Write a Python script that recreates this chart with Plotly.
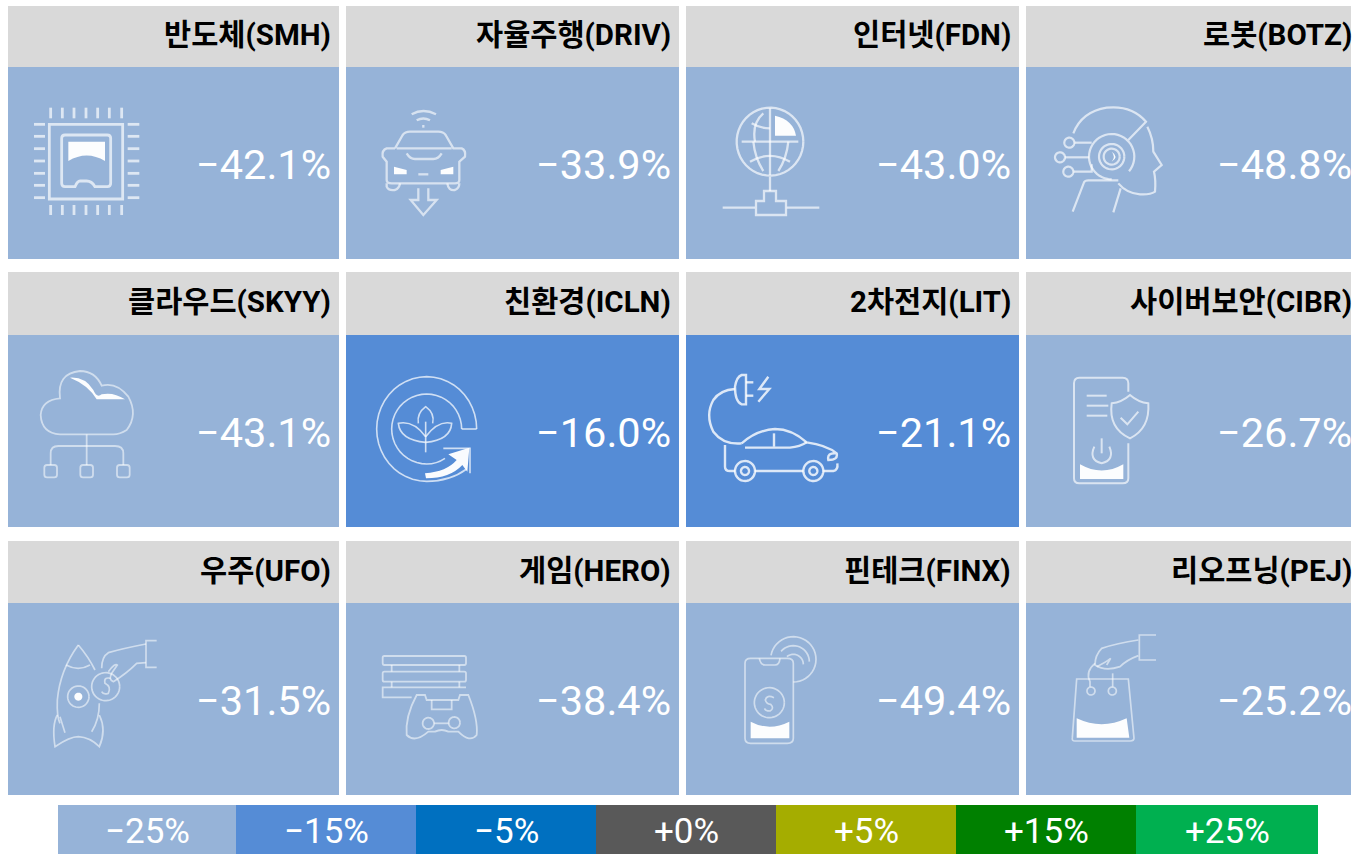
import math
import re
import plotly.graph_objects as go

# ---------- data ----------
CATEGORIES = ["반도체", "자율주행", "인터넷", "로봇",
              "클라우드", "친환경", "2차전지", "사이버보안",
              "우주", "게임", "핀테크", "리오프닝"]
TICKERS = ["SMH", "DRIV", "FDN", "BOTZ",
           "SKYY", "ICLN", "LIT", "CIBR",
           "UFO", "HERO", "FINX", "PEJ"]
RETURNS = [-42.1, -33.9, -43.0, -48.8,
           -43.1, -16.0, -21.1, -26.7,
           -31.5, -38.4, -49.4, -25.2]
LEGEND_VALUES = [-25, -15, -5, 0, 5, 15, 25]
LEGEND_COLORS = ["#96b3d8", "#558cd6", "#0070c0", "#595959", "#a5ad00", "#008000", "#00b050"]

# ---------- layout constants ----------
W, H = 1369, 854
COL_L = [8, 346, 686, 1026]
COL_R = [339, 679, 1019, 1351]
TEXT_R = [331, 671, 1011, 1352]
ROW_TOP = [6, 272, 541]
ROW_MID = [67, 335, 603]
ROW_BOT = [259, 527, 795]
LEG_EDGES = [58, 236, 416, 596, 776, 956, 1136, 1318]
LEG_TOP, LEG_BOT = 805, 854
HEADER = "#d9d9d9"
SANS = "Roboto, Noto Sans, sans-serif"
CJK = "Roboto, Noto Sans CJK KR, Noto Sans, sans-serif"


def signed(v):
    return ("+" if v >= 0 else "\u2212") + f"{abs(v)}%"


def tile_color(v):
    """Colour of the legend band a return falls into."""
    if v <= -25:
        return LEGEND_COLORS[0]
    if v <= -15:
        return LEGEND_COLORS[1]
    if v < 0:
        return LEGEND_COLORS[2]
    if v == 0:
        return LEGEND_COLORS[3]
    if v < 15:
        return LEGEND_COLORS[4]
    if v < 25:
        return LEGEND_COLORS[5]
    return LEGEND_COLORS[6]


# ---------- icon helpers ----------
def tr(path, ox, oy):
    """Convert a path written in 3x crop pixels to chart units."""
    out = []
    for cmd, args in re.findall(r"([MLHVQCZ])([^MLHVQCZ]*)", path):
        n = [float(a) for a in args.split()]
        if cmd == "H":
            n = [ox + a / 3 for a in n]
        elif cmd == "V":
            n = [oy + a / 3 for a in n]
        else:
            n = [(ox + a / 3) if i % 2 == 0 else (oy + a / 3) for i, a in enumerate(n)]
        out.append(cmd + " ".join(f"{a:.2f}" for a in n))
    return " ".join(out)


def arc(cx, cy, rx, ry=None, a0=0, a1=360, close=False):
    ry = rx if ry is None else ry
    steps = max(8, int(abs(a1 - a0) / 8))
    pts = []
    for i in range(steps + 1):
        t = math.radians(a0 + (a1 - a0) * i / steps)
        pts.append((cx + rx * math.cos(t), cy + ry * math.sin(t)))
    p = f"M{pts[0][0]:.1f} {pts[0][1]:.1f}"
    p += "".join(f" L{x:.1f} {y:.1f}" for x, y in pts[1:])
    return p + (" Z" if close else "")


def rrect(x0, y0, x1, y1, r):
    return (f"M{x0 + r} {y0} H{x1 - r} Q{x1} {y0} {x1} {y0 + r} V{y1 - r} Q{x1} {y1} {x1 - r} {y1} "
            f"H{x0 + r} Q{x0} {y1} {x0} {y1 - r} V{y0 + r} Q{x0} {y0} {x0 + r} {y0} Z")


shapes = []
annotations = []


def icon(ox, oy, lines=(), fills=(), w=1.6, a=0.62):
    for p in lines:
        shapes.append(dict(type="path", xref="x", yref="y", path=tr(p, ox, oy),
                           line=dict(color=f"rgba(255,255,255,{a})", width=w),
                           fillcolor="rgba(0,0,0,0)"))
    for p in fills:
        shapes.append(dict(type="path", xref="x", yref="y", path=tr(p, ox, oy),
                           line=dict(color="rgba(255,255,255,0)", width=0),
                           fillcolor="rgba(255,255,255,0.97)"))


# ---------- tiles ----------
for i, (cat, tic, val) in enumerate(zip(CATEGORIES, TICKERS, RETURNS)):
    r, c = divmod(i, 4)
    shapes.append(dict(type="rect", xref="x", yref="y", x0=COL_L[c], x1=COL_R[c],
                       y0=ROW_TOP[r], y1=ROW_MID[r], fillcolor=HEADER, line=dict(width=0), layer="below"))
    shapes.append(dict(type="rect", xref="x", yref="y", x0=COL_L[c], x1=COL_R[c],
                       y0=ROW_MID[r], y1=ROW_BOT[r], fillcolor=tile_color(val), line=dict(width=0), layer="below"))
    annotations.append(dict(x=TEXT_R[c], y=(ROW_TOP[r] + ROW_MID[r]) / 2 - 1.5, xref="x", yref="y",
                            text=f"<b>{cat}({tic})</b>", showarrow=False, xanchor="right", yanchor="middle",
                            borderpad=0, borderwidth=0,
                            font=dict(family=CJK, size=29.5, color="#000000")))
    annotations.append(dict(x=TEXT_R[c], y=(ROW_MID[r] + ROW_BOT[r]) / 2 + 1, xref="x", yref="y",
                            text=signed(val), showarrow=False, xanchor="right", yanchor="middle",
                            borderpad=0, borderwidth=0,
                            font=dict(family=SANS, size=41.5, weight=400, color="#ffffff")))

# ---------- legend band ----------
for i, (v, col) in enumerate(zip(LEGEND_VALUES, LEGEND_COLORS)):
    shapes.append(dict(type="rect", xref="x", yref="y", x0=LEG_EDGES[i], x1=LEG_EDGES[i + 1],
                       y0=LEG_TOP, y1=LEG_BOT, fillcolor=col, line=dict(width=0), layer="below"))
    annotations.append(dict(x=(LEG_EDGES[i] + LEG_EDGES[i + 1]) / 2, y=831, xref="x", yref="y",
                            text=signed(v), showarrow=False, xanchor="center", yanchor="middle",
                            borderpad=0, borderwidth=0,
                            font=dict(family=SANS, size=35, weight=400, color="#ffffff")))

# ---------- icons (decorative line art) ----------
# chip
pins = []
for x in (92, 127, 162, 198, 233, 268, 305):
    pins += [f"M{x} 38 V70", f"M{x} 330 V360"]
for y in (88, 124, 161, 198, 235, 271, 308):
    pins += [f"M42 {y} H75", f"M323 {y} H358"]
icon(20, 95, pins + ["M88 88 H308 V312 H88 Z",
                     "M135 120 H262 Q272 120 272 130 V265 Q272 275 262 275 H225 Q215 258 200 258 H180 Q172 258 165 275 H135 Q125 275 125 265 V130 Q125 120 135 120 Z"],
     ["M145 140 H255 V198 Q200 165 145 198 Z"], w=2.8, a=0.68)
# autonomous car
icon(20, 95, ["M1175 58 Q1210 38 1248 58", "M1190 76 Q1210 65 1230 76", "M1210 90 V98",
              "M1125 160 L1148 120 Q1155 110 1170 110 H1255 Q1270 110 1277 120 L1300 160 H1325 Q1338 165 1335 185 L1318 200 V255 Q1318 265 1305 265 H1115 Q1100 265 1100 255 V200 L1088 185 Q1085 165 1100 160 H1125",
              "M1130 160 H1295", "M1160 175 Q1170 192 1185 192 H1240 Q1255 192 1265 175",
              "M1195 238 H1225",
              "M1100 265 V275 Q1105 288 1125 285 Q1138 280 1140 265",
              "M1282 265 Q1285 288 1305 285 Q1318 280 1318 265",
              "M1195 280 V315 H1172 L1210 360 L1250 315 H1225 V280"],
     ["M1122 215 L1160 225 V238 H1122 Z", "M1300 215 L1262 225 V238 H1300 Z"], w=2.3, a=0.62)
# globe
icon(710, 95, [arc(180, 140, 100, 102), "M180 40 V240", "M95 140 H265",
               "M160 55 Q125 85 135 140", "M125 85 Q150 100 180 100", "M120 200 Q180 165 240 200",
               "M130 140 Q135 190 160 228", "M235 140 Q230 190 205 228", "M180 245 V288",
               "M162 288 H198 V318 H228 V360 H138 V318 H162 Z", "M38 338 H135", "M230 338 H328"],
     ["M195 62 Q250 75 258 122 H195 Z"], w=2.3, a=0.66)
# robot head
icon(710, 95, ["M1090 115 Q1115 50 1190 38 Q1265 30 1308 80 L1255 135",
               "M1312 95 Q1330 130 1330 170 L1355 210 L1332 230 Q1338 255 1335 290 Q1320 300 1290 298 Q1250 295 1225 265",
               arc(1205, 185, 68, 68, 90, 400), arc(1205, 185, 38), arc(1205, 185, 24),
               arc(1078, 143, 15), arc(1050, 187, 15), arc(1075, 230, 15),
               "M1093 143 H1145", "M1065 187 H1137", "M1090 230 H1145 V208",
               "M1088 350 L1122 262 Q1125 256 1135 256 H1225", "M1210 352 L1232 280"],
     ["M1205 170 Q1228 185 1205 200 Q1218 185 1205 170 Z"], w=2.2, a=0.66)
# cloud
icon(30, 365, ["M90 100 Q80 25 150 18 Q195 18 215 62 Q260 50 295 95 Q325 150 290 195 Q270 208 250 208 H90 Q35 205 32 150 Q35 105 90 100 Z",
               "M170 208 V300", "M62 300 V265 Q62 243 85 243 H255 Q280 243 280 265 V300",
               rrect(43, 300, 81, 337, 8), rrect(151, 300, 189, 337, 8), rrect(261, 300, 299, 337, 8)],
     ["M120 38 Q165 35 190 75 Q200 100 215 88 Q250 80 285 103 H200 Q175 60 120 38 Z"], w=1.8, a=0.55)
# leaf & recycle
icon(30, 365, [arc(1190, 192, 150, 157, 0, -270) + " Q1260 349 1310 312",
               arc(1190, 192, 105, 105, 0, -270) + " Q1220 297 1245 280", "M1295 192 H1340",
               "M1240 250 H1320 V325",
               "M1187 170 V262", "M1165 175 Q1160 145 1187 125 Q1215 145 1208 175",
               "M1187 232 Q1110 225 1105 175 Q1150 165 1187 215",
               "M1187 232 Q1262 225 1265 175 Q1225 165 1187 215"],
     ["M1185 325 Q1250 320 1280 285 L1255 268 L1318 248 L1312 320 L1297 300 Q1260 340 1188 340 Z"], w=1.6, a=0.72)
# EV car
icon(700, 365, ["M105 72 Q60 75 40 105 Q15 150 40 200 Q70 240 125 235",
                "M105 65 Q110 35 125 30 H138 V118 H125 Q105 110 105 65 Z", "M138 52 H160", "M138 92 H160",
                "M205 35 L178 72 H208 L175 110",
                "M125 235 Q170 195 225 192 Q275 192 320 232 Q380 240 410 265 Q415 285 385 285 Q380 262 410 265",
                "M135 248 H270 Q300 245 320 232", "M222 205 V245",
                "M75 240 V305 Q75 318 90 318 H105", "M165 318 H310", "M370 318 H400 Q415 315 412 295",
                arc(135, 318, 30), arc(135, 318, 12), arc(340, 318, 30), arc(340, 318, 12)], w=2.4, a=0.8)
# phone & shield
icon(700, 365, ["M1285 80 V55 Q1285 38 1268 38 H1138 Q1122 38 1122 55 V340 Q1122 355 1138 355 H1268 Q1285 355 1285 340 V235",
                "M1160 92 H1220", "M1160 122 H1225", "M1160 152 H1222",
                "M1290 90 Q1265 112 1235 115 Q1225 190 1290 220 Q1350 190 1345 115 Q1315 112 1290 90 Z",
                "M1262 158 L1282 178 L1315 140", "M1205 220 V265",
                "M1183 245 Q1165 285 1205 295 Q1245 285 1228 245"],
     ["M1140 298 Q1205 335 1270 298 V342 H1140 Z"], w=2.0, a=0.65)
# rocket & coin
icon(40, 630, ["M115 45 Q60 120 52 210 Q50 260 60 280", "M115 45 Q145 80 165 120", "M78 105 Q115 125 150 105",
               "M178 220 Q178 270 155 305", "M52 255 Q35 285 45 350 Q90 320 115 320 Q150 322 178 350 Q200 300 178 255",
               "M60 260 L75 308", arc(115, 200, 32), arc(197, 170, 42),
               "M212 145 Q190 140 195 160 Q215 170 205 190 Q190 195 185 185",
               "M318 42 Q250 55 205 68 Q185 80 185 115",
               "M318 98 L290 100 Q260 130 220 155 Q205 150 215 130 Q225 115 232 105 Q225 98 205 125",
               "M350 32 H318 V112 H350"],
     [arc(115, 200, 12, close=True)], w=1.7, a=0.55)
# game console
icon(40, 630, [rrect(1028, 78, 1278, 105, 5), rrect(1028, 125, 1278, 155, 5), "M1278 172 H1028 V202 H1115",
               "M1055 105 V125", "M1258 105 V125", "M1055 155 V172", "M1258 155 V172",
               "M1130 195 H1155 L1160 210 H1255 L1260 195 H1285 Q1315 270 1310 315 Q1290 340 1255 305 H1225 Q1205 295 1185 305 H1165 Q1125 340 1100 315 Q1095 260 1130 195 Z",
               "M1175 210 V238 H1235 V210", arc(1165, 280, 17), arc(1243, 278, 17), "M1182 280 H1226"],
     w=1.8, a=0.55)
# phone payment
icon(730, 625, ["M45 115 Q45 100 62 100 H172 Q190 100 190 115 V340 Q190 355 172 355 H62 Q45 355 45 340 Z",
                "M88 100 Q92 120 105 120 H135 Q148 120 150 100",
                arc(190, 103, 68, 68, -170, 90), arc(190, 110, 48, 48, -140, 0), arc(190, 118, 30, 30, -130, 0),
                arc(118, 233, 45),
                "M132 218 Q110 208 106 225 Q110 238 122 238 Q134 250 120 258 Q105 258 104 250"],
     ["M62 290 Q118 320 178 290 V340 H62 Z"], w=1.7, a=0.55)
# shopping bag
icon(730, 625, ["M1040 162 H1195 L1212 340 Q1212 348 1200 348 H1035 Q1025 348 1027 338 Z",
                "M1080 185 V170 Q1065 140 1095 115", "M1148 185 V145",
                arc(1083, 198, 12), arc(1147, 198, 12),
                "M1225 45 Q1160 55 1115 70 Q1095 90 1095 120 Q1125 140 1170 125 Q1190 105 1225 92",
                "M1278 30 H1228 V105 H1278", "M1100 125 Q1130 110 1142 100 L1130 120"],
     ["M1040 280 Q1115 315 1190 280 L1198 338 H1040 Z"], w=1.7, a=0.55)

fig = go.Figure()
fig.update_layout(
    width=W, height=H, autosize=False,
    margin=dict(l=0, r=0, t=0, b=0, pad=0),
    paper_bgcolor="#ffffff", plot_bgcolor="#ffffff",
    xaxis=dict(range=[0, W], visible=False, fixedrange=True),
    yaxis=dict(range=[H, 0], visible=False, fixedrange=True),
    shapes=shapes, annotations=annotations, showlegend=False,
)
fig.write_html("out.html", config={"displayModeBar": False, "responsive": False},
               post_script="document.body.style.margin='0';document.body.style.overflow='hidden';")
